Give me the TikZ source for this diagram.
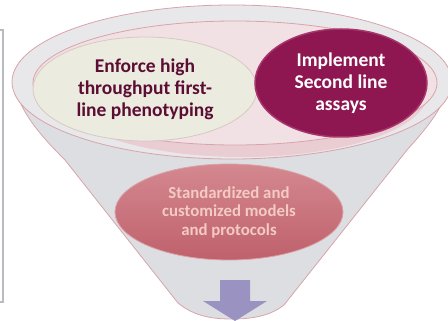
\documentclass[tikz,border=0pt]{standalone}
\usepackage{fontspec}
\setmainfont{Carlito}
\usetikzlibrary{shapes.geometric}
\definecolor{conegray}{HTML}{DCDEE1}
\definecolor{rimgray}{HTML}{E8E8EB}
\definecolor{rimline}{HTML}{D9A3AA}
\definecolor{innerpink}{HTML}{F2E1E4}
\definecolor{shadowpink}{HTML}{E9CDD3}
\definecolor{cream}{HTML}{ECEBE0}
\definecolor{creamline}{HTML}{D7C9C0}
\definecolor{darktext}{HTML}{5B0D33}
\definecolor{magentaA}{HTML}{8E1752}
\definecolor{magentaB}{HTML}{A8356B}
\definecolor{roseA}{HTML}{D48890}
\definecolor{roseB}{HTML}{BF616C}
\definecolor{rosetext}{HTML}{F3CBC3}
\definecolor{arrowc}{HTML}{9A93C1}
\definecolor{boxgray}{HTML}{B9BBC0}
\tikzset{
  bubble/.style={ellipse, inner sep=0pt, align=center, font=\bfseries\fontsize{19.5}{22}\selectfont},
  firstline/.style={bubble, fill=cream, draw=creamline, line width=0.8pt, text=darktext},
  secondline/.style={bubble, fill=magentaA, draw=magentaB, line width=1.5pt, text=white},
  models/.style={bubble, top color=roseA, bottom color=roseB, draw=roseA!80!white, line width=0.8pt, text=rosetext, font=\bfseries\fontsize{16.8}{18.5}\selectfont},
  rimstyle/.style={fill=rimgray, draw=rimline, line width=0.8pt},
}
\begin{document}
\begin{tikzpicture}[x=1pt,y=-1pt]
\useasboundingbox (0,0) rectangle (448,321);
% partial box edge at left
\draw[boxgray, line width=1.3pt] (0,30) -- (3,30) -- (3,302) -- (0,302);
% cone
\path[fill=conegray, draw=rimline, line width=0.8pt]
  (14,84) .. controls (20,112) and (40,135) .. (65,160) -- (178,303)
  .. controls (195,317) and (214,319) .. (232,319)
  .. controls (252,319) and (270,316) .. (284,305) -- (407,150)
  .. controls (425,130) and (442,110) .. (448,88) -- cycle;
% rim
\path[rimstyle] (232,82) ellipse [x radius=220, y radius=77];
\fill[shadowpink] (242,93) ellipse [x radius=186, y radius=64];
\path[fill=innerpink, draw=rimline, line width=0.8pt] (235,83) ellipse [x radius=202, y radius=62];
% bubbles
\node[firstline, minimum width=224pt, minimum height=104pt] (first) at (145,89)
  {Enforce high\\throughput first-\\line phenotyping};
\node[secondline, minimum width=172pt, minimum height=108pt] (second) at (341,83)
  {Implement\\Second line\\assays};
\node[models, minimum width=228pt, minimum height=96pt] (std) at (229,212)
  {Standardized and\\customized models\\and protocols};
% arrow
\fill[arrowc] (220,280) -- (250,280) -- (250,301) -- (267,301) -- (235,321) -- (203,301) -- (220,301) -- cycle;
\end{tikzpicture}
\end{document}
